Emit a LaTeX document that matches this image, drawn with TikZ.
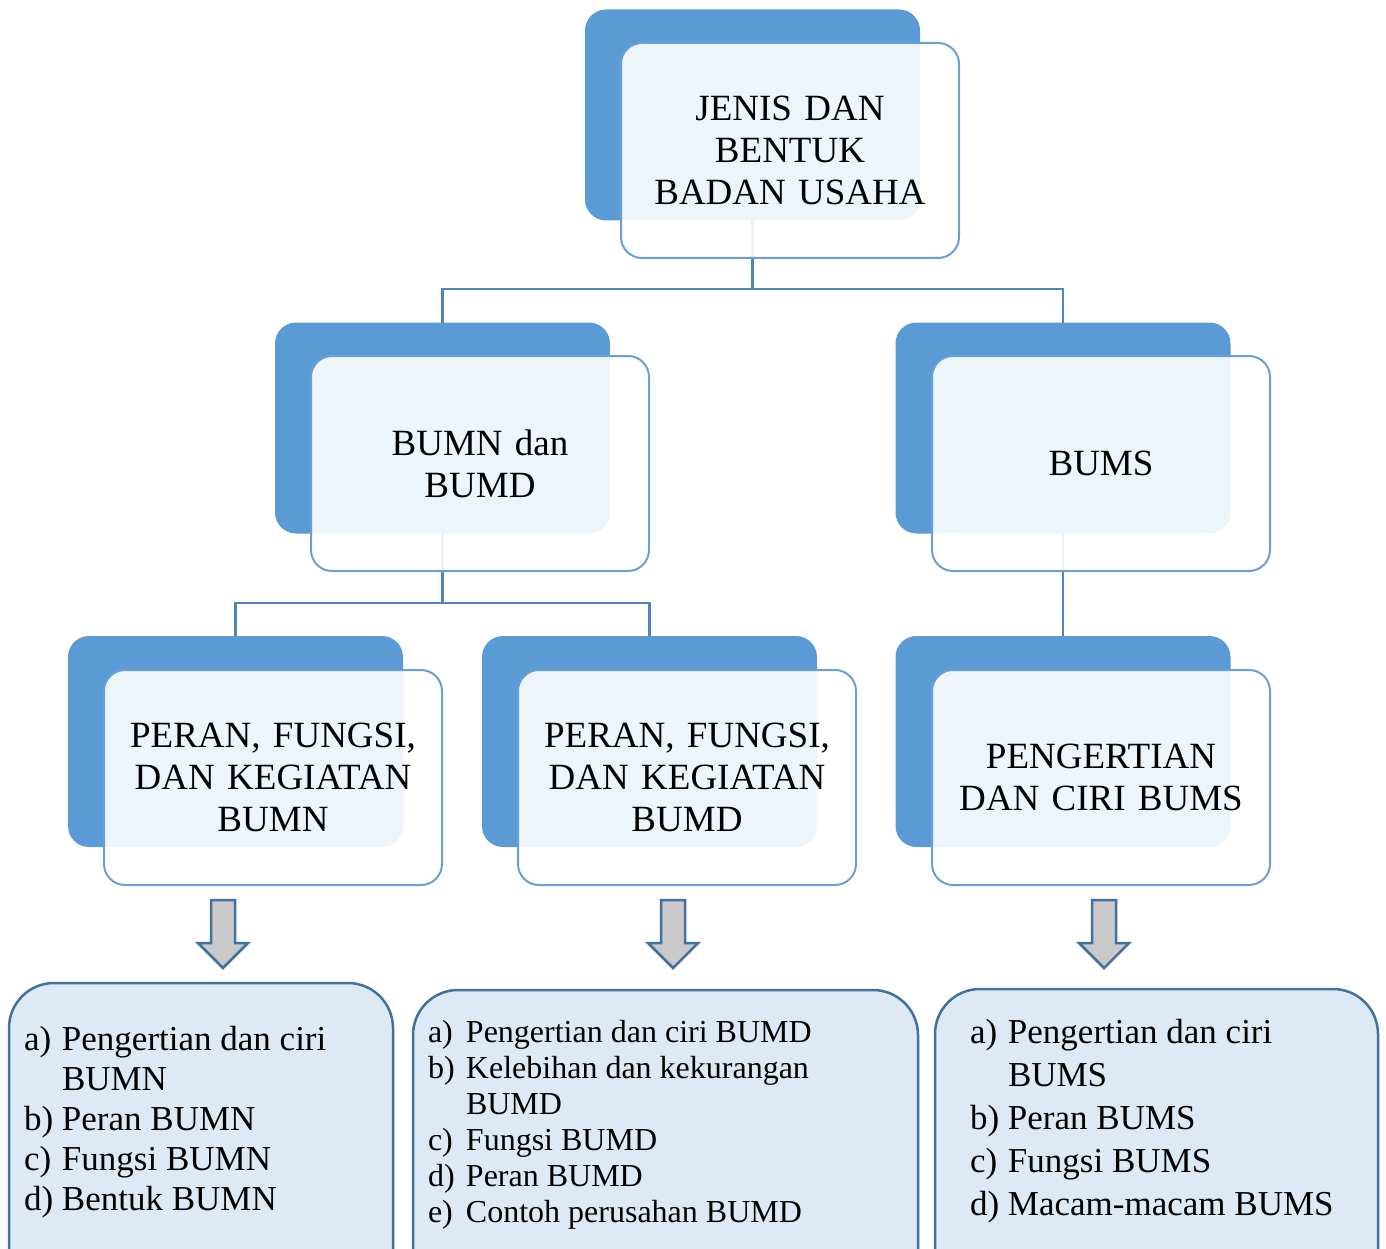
\documentclass[tikz,border=0pt]{standalone}
\usepackage{fontspec}
\setmainfont{Liberation Serif}
\usepackage{array}
\definecolor{darkbox}{HTML}{5B9BD5}
\definecolor{frontline}{HTML}{6A9FD6}
\definecolor{connc}{HTML}{5083C0}
\definecolor{listfill}{HTML}{DDEAF6}
\definecolor{listline}{HTML}{41719C}
\definecolor{arrfill}{HTML}{C9C9C9}
\tikzset{
  darkrect/.style={fill=darkbox, draw=none, rounded corners=21pt, inner sep=0pt, outer sep=0pt, minimum width=335pt, minimum height=211pt},
  frontrect/.style={fill=white, fill opacity=0.9, text opacity=1, draw=frontline, line width=2pt, rounded corners=21pt, inner sep=0pt, outer sep=0pt, minimum width=338pt, minimum height=215pt, text width=330pt, align=center, font=\fontsize{37}{42}\selectfont},
  conn/.style={draw=connc, line width=2.5pt},
  listbox/.style={fill=listfill, draw=listline, line width=2.5pt, rounded corners=45pt},
  barrow/.style={fill=arrfill, draw=listline, line width=2.5pt, line join=miter},
  listtext/.style={inner sep=0pt, outer sep=0pt, anchor=base west, align=left}
}
\newcommand\mydownarrow[2]{%
  \draw[barrow] ({#1-12},900) -- ({#1+12},900) -- ({#1+12},943) -- ({#1+25},943)
     -- (#1,968) coordinate (#2) -- ({#1-25},943) -- ({#1-12},943) -- cycle;}
\begin{document}
\begin{tikzpicture}[x=1pt,y=-1pt]
\useasboundingbox (0,0) rectangle (1386,1249);
\clip (0,0) rectangle (1386,1249);
\fill[white] (0,0) rectangle (1386,1249);
% dark back rectangles
\node[darkrect] (topd) at (752.5,115) {};
\node[darkrect] (bumnd) at (442.5,428) {};
\node[darkrect] (bumsd) at (1063,428) {};
\node[darkrect] (prnd) at (235.5,741.5) {};
\node[darkrect] (prdd) at (649.5,741.5) {};
\node[darkrect] (pngd) at (1063,741.5) {};
% connectors
\coordinate (h1) at (0,289);
\coordinate (h2) at (0,603);
\draw[conn] (topd.south) -- (topd.south |- h1) -| (bumnd.north);
\draw[conn] (topd.south |- h1) -| (bumsd.north);
\draw[conn] (bumnd.south) -- (bumnd.south |- h2) -| (prnd.north);
\draw[conn] (bumnd.south |- h2) -| (prdd.north);
\draw[conn] (bumsd.south) -- (pngd.north);
% front boxes
\node[frontrect] (top) at (790,150.5) {JENIS DAN\\BENTUK\\BADAN USAHA};
\node[frontrect] (bumn) at (480,463.5) {BUMN dan\\BUMD};
\node[frontrect] (bums) at (1101,463.5) {BUMS};
\node[frontrect] (prn) at (273,777.5) {PERAN, FUNGSI,\\DAN KEGIATAN\\BUMN};
\node[frontrect] (prd) at (687,777.5) {PERAN, FUNGSI,\\DAN KEGIATAN\\BUMD};
\node[frontrect] (png) at (1101,777.5) {PENGERTIAN\\DAN CIRI BUMS};
% block arrows
\mydownarrow{223}{a1}
\mydownarrow{673}{a2}
\mydownarrow{1104}{a3}
% list boxes
\draw[listbox] (9,1300) -- (9,983) -- (393,983) -- (393,1300);
\draw[listbox] (413,1300) -- (413,990) -- (918,990) -- (918,1300);
\draw[listbox] (935,1300) -- (935,989) -- (1378,989) -- (1378,1300);
\node[listtext, font=\fontsize{35}{40}\selectfont] (l1) at (24,1050)
 {\begin{tabular}[t]{@{}p{38pt}@{}l@{}}
 a) & Pengertian dan ciri\\ & BUMN\\ b) & Peran BUMN\\ c) & Fungsi BUMN\\ d) & Bentuk BUMN
 \end{tabular}};
\node[listtext, font=\fontsize{32}{36}\selectfont] (l2) at (428,1042)
 {\begin{tabular}[t]{@{}p{38pt}@{}l@{}}
 a) & Pengertian dan ciri BUMD\\ b) & Kelebihan dan kekurangan\\ & BUMD\\ c) & Fungsi BUMD\\ d) & Peran BUMD\\ e) & Contoh perusahan BUMD
 \end{tabular}};
\node[listtext, font=\fontsize{35}{43}\selectfont] (l3) at (970,1043)
 {\begin{tabular}[t]{@{}p{38pt}@{}l@{}}
 a) & Pengertian dan ciri\\ & BUMS\\ b) & Peran BUMS\\ c) & Fungsi BUMS\\ d) & Macam-macam BUMS
 \end{tabular}};
\end{tikzpicture}
\end{document}
